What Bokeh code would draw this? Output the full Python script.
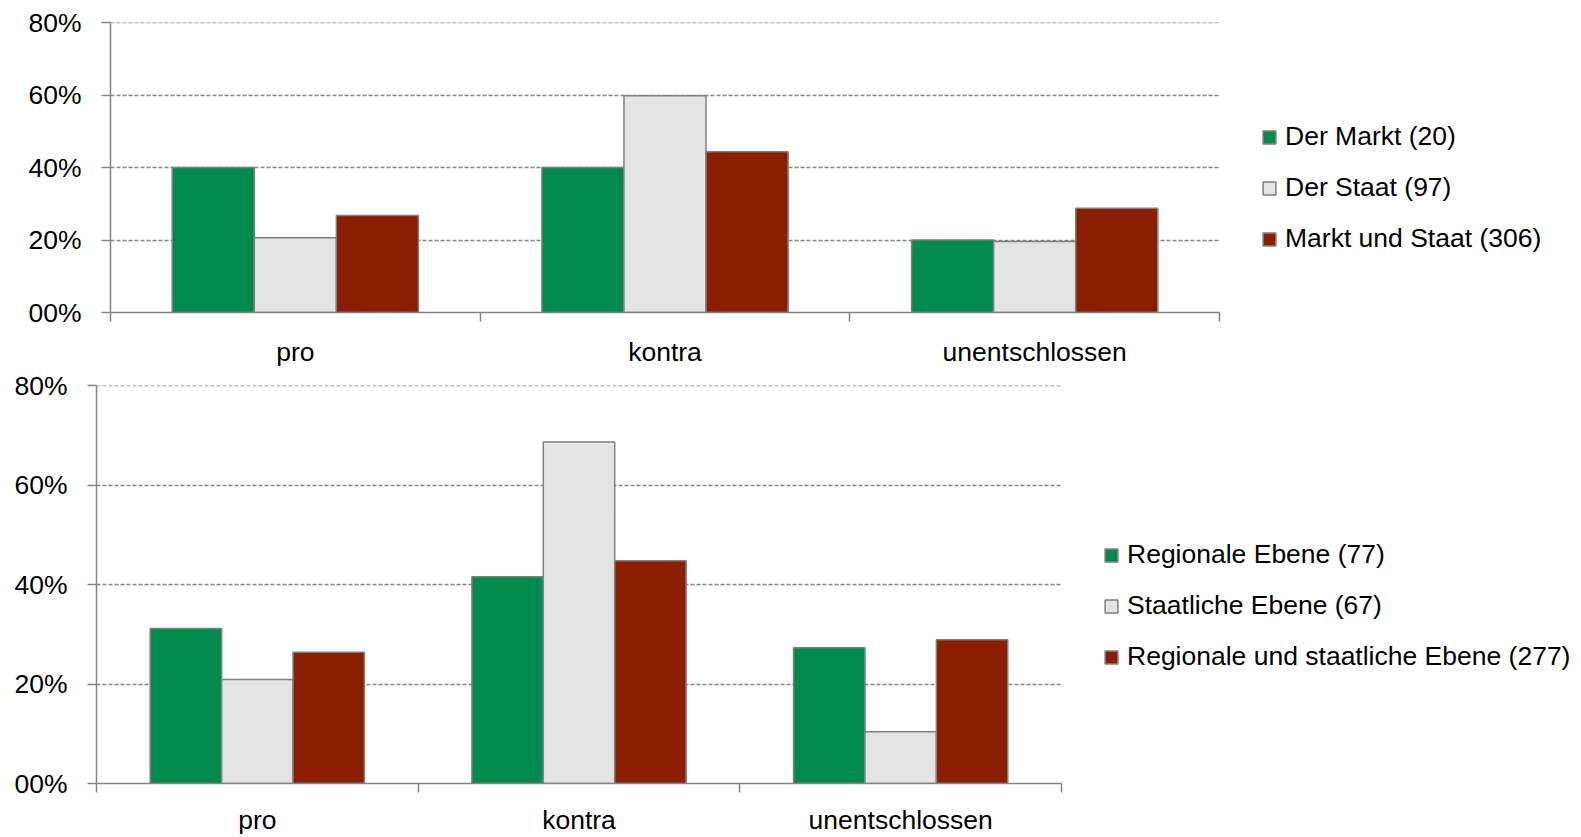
from bokeh.plotting import figure
from bokeh.models import (Range1d, FixedTicker, Legend, LegendItem, ColumnDataSource)
from bokeh.transform import dodge
from bokeh.embed import file_html
from bokeh.resources import INLINE

# ---------------- data ----------------
categories = ["pro", "kontra", "unentschlossen"]
y_ticks = [0, 20, 40, 60, 80]
y_tick_labels = ["00%", "20%", "40%", "60%", "80%"]

top_series = ["Der Markt (20)", "Der Staat (97)", "Markt und Staat (306)"]
top_markt = [40.0, 40.0, 20.0]
top_staat = [20.6, 59.8, 19.6]
top_beide = [26.8, 44.4, 28.8]

bottom_series = ["Regionale Ebene (77)", "Staatliche Ebene (67)",
                 "Regionale und staatliche Ebene (277)"]
bottom_regional = [31.2, 41.6, 27.3]
bottom_staatlich = [20.9, 68.7, 10.4]
bottom_beide = [26.4, 44.8, 28.9]

# ---------------- style ----------------
colors = ["#008A4E", "#E4E4E4", "#8B1D00"]
FONT = "Liberation Sans"
GREY = "#858585"
FS = "26.5px"


def make_chart(names, vals, fw, fh, b_left, b_top, b_right, b_bottom,
               x_standoff, legend_xy):
    n = len(categories)
    p = figure(x_range=Range1d(0, n), y_range=Range1d(0, 80.05),
               frame_width=fw, frame_height=fh, output_backend="svg",
               toolbar_location=None,
               min_border_left=b_left, min_border_top=b_top,
               min_border_right=b_right, min_border_bottom=b_bottom)
    p.outline_line_color = None
    centres = [i + 0.5 for i in range(n)]
    src = ColumnDataSource(dict(xc=centres, s0=vals[0], s1=vals[1], s2=vals[2]))
    bw = 0.222
    offs = [-bw, 0.0, bw]
    items = []
    for i in range(3):
        r = p.vbar(x=dodge("xc", offs[i]), top=f"s{i}", width=bw,
                   source=src, fill_color=colors[i], line_color="#808080",
                   line_width=1.5)
        items.append(LegendItem(label=names[i], renderers=[r]))

    # y axis
    yt = FixedTicker(ticks=y_ticks, minor_ticks=[])
    yax = p.yaxis[0]
    yax.ticker = yt
    yax.major_label_overrides = dict(zip(y_ticks, y_tick_labels))
    yax.major_tick_out = 9
    yax.major_tick_in = 0
    yax.minor_tick_out = 0
    yax.minor_tick_in = 0
    yax.axis_line_color = GREY
    yax.axis_line_width = 1.5
    yax.major_tick_line_color = GREY
    yax.major_tick_line_width = 1.5
    yax.major_label_text_font = FONT
    yax.major_label_text_font_size = FS
    yax.major_label_text_color = "black"
    yax.major_label_standoff = 20

    p.ygrid.ticker = yt
    p.ygrid.grid_line_color = GREY
    p.ygrid.grid_line_dash = "4 2"
    p.ygrid.grid_line_width = 1.5
    p.xgrid.visible = False

    # x axis: labels at category centres, tick marks at category boundaries
    xt = FixedTicker(ticks=centres, minor_ticks=list(range(n + 1)))
    xax = p.xaxis[0]
    xax.ticker = xt
    xax.major_label_overrides = dict(zip(centres, categories))
    xax.axis_line_color = GREY
    xax.axis_line_width = 1.5
    xax.major_tick_line_color = None
    xax.major_tick_out = 0
    xax.major_tick_in = 0
    xax.minor_tick_out = 9
    xax.minor_tick_in = 0
    xax.minor_tick_line_color = GREY
    xax.minor_tick_line_width = 1.5
    xax.major_label_text_font = FONT
    xax.major_label_text_font_size = FS
    xax.major_label_text_color = "black"
    xax.major_label_standoff = x_standoff

    leg = Legend(items=items, location=legend_xy, orientation="vertical",
                 border_line_color=None, background_fill_alpha=0,
                 padding=0, margin=0, spacing=20, label_height=30,
                 glyph_height=16, glyph_width=16, label_standoff=8,
                 label_text_font=FONT, label_text_font_size=FS,
                 label_text_color="black")
    p.add_layout(leg, "right")
    return p


top = make_chart(top_series, [top_markt, top_staat, top_beide],
                 fw=1109, fh=290, b_left=110, b_top=22, b_right=359,
                 b_bottom=45, x_standoff=15, legend_xy=(42, 58))
bottom = make_chart(bottom_series, [bottom_regional, bottom_staatlich, bottom_beide],
                    fw=965, fh=398, b_left=96, b_top=16, b_right=517,
                    b_bottom=46, x_standoff=12, legend_xy=(42, 111))

open("out.html", "w").write(file_html((top, bottom), INLINE))
